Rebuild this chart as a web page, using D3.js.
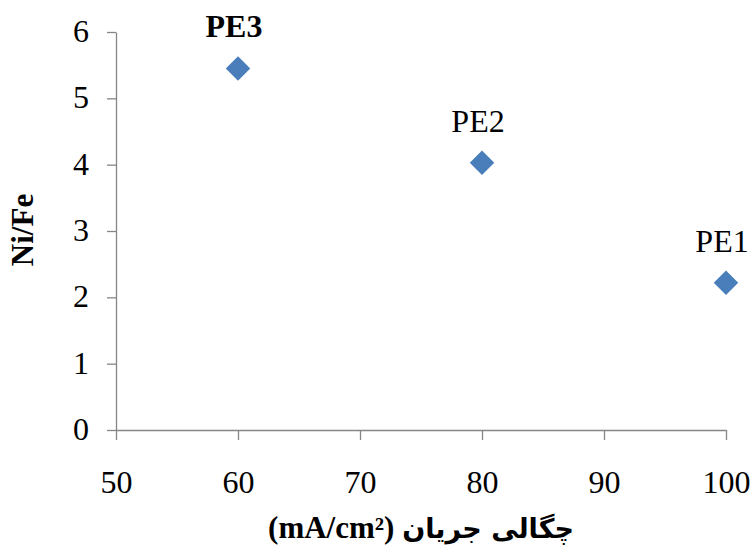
<!DOCTYPE html>
<html>
<head>
<meta charset="utf-8">
<script src="https://cdn.jsdelivr.net/npm/d3@7"></script>
<style>
  html, body { margin: 0; padding: 0; background: #fff; }
  svg { display: block; }
  svg text { font-family: 'Liberation Serif', 'Times New Roman', serif; }
</style>
</head>
<body>
<svg id="chart" width="753" height="554"></svg>
<script>
// Data
const labels = ["PE1", "PE2", "PE3"];
const currentDensity = [100, 80, 60];
const niFe = [2.22, 4.03, 5.45];
const labelBold = [false, false, true];
const xTicks = [50, 60, 70, 80, 90, 100];
const yTicks = [0, 1, 2, 3, 4, 5, 6];
const xTitleLatin = "(mA/cm²)";
const xTitlePersian = "چگالی جریان";
const yTitle = "Ni/Fe";

const W = 753, H = 554;
const margin = { top: 32, right: 27, bottom: 124, left: 116 };
const svg = d3.select("#chart");
const font = "'Liberation Serif', 'Times New Roman', serif";
const axisColor = "#868686";

const x = d3.scaleLinear().domain([50, 100]).range([margin.left, W - margin.right]);
const y = d3.scaleLinear().domain([0, 6]).range([H - margin.bottom, margin.top]);

// Y axis
const gy = svg.append("g")
  .attr("transform", `translate(${margin.left},0)`)
  .call(d3.axisLeft(y).tickValues(yTicks).tickFormat(d3.format("d")).tickSize(9).tickSizeOuter(0).tickPadding(18));
gy.attr("font-family", null);
gy.select(".domain").attr("stroke", axisColor).attr("stroke-width", 1.3);
gy.selectAll(".tick line").attr("stroke", axisColor).attr("stroke-width", 1.3);
gy.selectAll(".tick text")
  .style("font-family", font).attr("font-size", 32).attr("fill", "#000")
  .attr("dy", "0.3em");

// X axis
const gx = svg.append("g")
  .attr("transform", `translate(0,${H - margin.bottom})`)
  .call(d3.axisBottom(x).tickValues(xTicks).tickFormat(d3.format("d")).tickSize(10).tickSizeOuter(0));
gx.attr("font-family", null);
gx.select(".domain").attr("stroke", axisColor).attr("stroke-width", 1.3);
gx.selectAll(".tick line").attr("stroke", axisColor).attr("stroke-width", 1.3);
gx.selectAll(".tick text")
  .style("font-family", font).attr("font-size", 32).attr("fill", "#000")
  .attr("y", 63).attr("dy", 0);

// Points
const pts = labels.map((l, i) => ({ label: l, x: currentDensity[i], y: niFe[i], bold: labelBold[i] }));
const sym = d3.symbol().type(d3.symbolSquare).size(300);
svg.append("g").selectAll("path")
  .data(pts).join("path")
  .attr("d", sym)
  .attr("transform", d => `translate(${x(d.x)},${y(d.y)}) rotate(45)`)
  .attr("fill", "#4a7ebb");

// Point labels
svg.append("g").selectAll("text")
  .data(pts).join("text")
  .attr("x", d => x(d.x) - 4)
  .attr("y", d => y(d.y) - 31)
  .attr("text-anchor", "middle")
  .style("font-family", font)
  .attr("font-size", 32)
  .attr("font-weight", d => d.bold ? "bold" : "normal")
  .attr("fill", "#000")
  .text(d => d.label);

// X axis title
const xt = svg.append("text")
  .attr("x", 421)
  .attr("y", 538)
  .attr("text-anchor", "middle")
  .attr("font-weight", "bold")
  .attr("fill", "#000");
xt.append("tspan")
  .style("font-family", font)
  .attr("font-size", 31)
  .text(xTitleLatin + " ");
xt.append("tspan")
  .style("font-family", "'DejaVu Sans', sans-serif")
  .attr("font-size", 27)
  .text(xTitlePersian);

// Y axis title
svg.append("text")
  .attr("transform", "translate(33,230) rotate(-90)")
  .attr("text-anchor", "middle")
  .style("font-family", font)
  .attr("font-size", 31)
  .attr("font-weight", "bold")
  .attr("fill", "#000")
  .text(yTitle);
</script>
</body>
</html>
